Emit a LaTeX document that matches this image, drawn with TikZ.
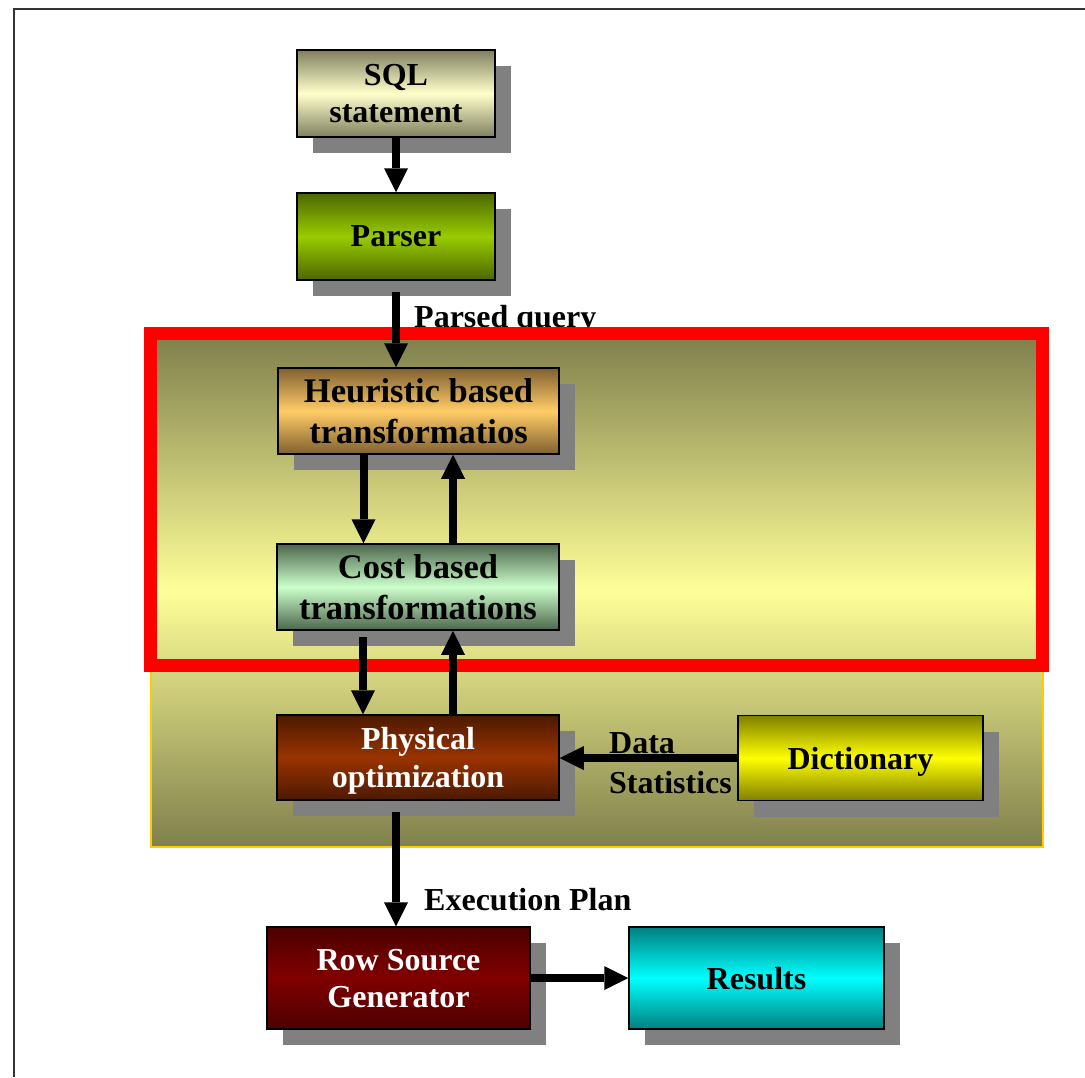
\documentclass[tikz,border=0pt]{standalone}
\usepackage{fontspec}
\setmainfont{Liberation Serif}
\usetikzlibrary{positioning, arrows.meta, shadows}

\definecolor{shadowgray}{HTML}{808080}
\definecolor{bgolive}{HTML}{7F7F4C}
\definecolor{bglight}{HTML}{FFFF99}
\definecolor{bgborder}{HTML}{FFCC00}
\definecolor{sqldark}{HTML}{80805F}
\definecolor{sqllight}{HTML}{FFFFCC}
\definecolor{parserdark}{HTML}{4C6600}
\definecolor{parserlight}{HTML}{99CC00}
\definecolor{heurdark}{HTML}{806030}
\definecolor{heurlight}{HTML}{FFCC66}
\definecolor{costdark}{HTML}{4C664C}
\definecolor{costlight}{HTML}{CCFFCC}
\definecolor{physdark}{HTML}{4C1900}
\definecolor{physlight}{HTML}{993300}
\definecolor{dictdark}{HTML}{808000}
\definecolor{dictlight}{HTML}{FFFF00}
\definecolor{rsgdark}{HTML}{4C0000}
\definecolor{rsglight}{HTML}{800000}
\definecolor{resdark}{HTML}{008080}
\definecolor{reslight}{HTML}{00FFFF}

\begin{document}
\begin{tikzpicture}
            [x=1pt, y=-1pt,
             box/.style={draw=black, line width=1.5pt, align=center, inner sep=0pt, text depth=-5pt,
                         font=\bfseries\fontsize{32}{37}\selectfont,
                         drop shadow={shadow xshift=16pt, shadow yshift=-16pt, fill=shadowgray, opacity=1}},
             bigtext/.style={font=\bfseries\fontsize{34.5}{40.5}\selectfont},
             shadebox/.style 2 args={top color=#1, bottom color=#1, middle color=#2},
             lbl/.style={font=\bfseries\fontsize{32}{40}\selectfont, inner sep=0pt, align=left},
             arr/.style={line width=8pt, -{Triangle[width=24pt, length=24pt, line width=0pt]}}]

            \useasboundingbox (0,0) rectangle (1085,1077);
            \draw[line width=1.5pt, black!80] (14,1077) -- (14,9) -- (1085,9);

            \fill[top color=bgolive, bottom color=bglight] (151,336) rectangle (1043,591);
            \fill[top color=bglight, bottom color=bgolive] (151,591) rectangle (1043,847);
            \draw[bgborder, line width=1.5pt] (151,336) rectangle (1043,847);

            \node[lbl, anchor=base west] (parsedlbl) at (414,327) {Parsed query};
            \draw[red, line width=13pt] (150.5,333.5) rectangle (1042.5,665);

            \node[box, shadebox={sqldark}{sqllight}, minimum width=198pt, minimum height=87pt] (sql) at (396,93.5) {SQL\\statement};
            \node[box, shadebox={parserdark}{parserlight}, minimum width=198pt, minimum height=87pt] (parser) at (396,236.5) {Parser};
            \node[box, bigtext, shadebox={heurdark}{heurlight}, minimum width=281pt, minimum height=86pt] (heur) at (418.5,411) {Heuristic based\\transformatios};
            \node[box, bigtext, shadebox={costdark}{costlight}, minimum width=282pt, minimum height=86pt] (cost) at (418,587) {Cost based\\transformations};
            \node[box, text=white, font=\bfseries\fontsize{32}{38}\selectfont, shadebox={physdark}{physlight}, minimum width=282pt, minimum height=85pt] (phys) at (418,757.5) {Physical\\optimization};
            \node[box, shadebox={dictdark}{dictlight}, minimum width=245pt, minimum height=85pt] (dict) at (860.5,758) {Dictionary};
            \node[box, text=white, shadebox={rsgdark}{rsglight}, minimum width=263pt, minimum height=102pt] (rsg) at (398.5,978) {Row Source\\Generator};
            \node[box, shadebox={resdark}{reslight}, minimum width=255pt, minimum height=102pt] (res) at (756.5,978) {Results};

            \node[lbl, anchor=west] (statlbl) at (609,763) {Data\\Statistics};
            \node[lbl, anchor=base west] (planlbl) at (424,910) {Execution Plan};

            \draw[arr] (sql) -- (parser);
            \draw[arr, shorten <=11pt] (parser) -- (parser |- heur.north);
            \draw[arr] ([xshift=-55pt]heur.south) -- ([xshift=-55pt]heur.south |- cost.north);
            \draw[arr] ([xshift=35pt]cost.north) -- ([xshift=35pt]cost.north |- heur.south);
            \draw[arr, shorten <=6pt] ([xshift=-55pt]cost.south) -- ([xshift=-55pt]cost.south |- phys.north);
            \draw[arr] ([xshift=35pt]phys.north) -- ([xshift=35pt]phys.north |- cost.south);
            \draw[arr] (dict.west) -- (dict.west -| phys.east);
            \draw[arr, shorten <=11pt] (phys.south -| sql.south) -- (rsg.north -| sql.south);
            \draw[arr] (rsg) -- (res);
        \end{tikzpicture}
\end{document}
